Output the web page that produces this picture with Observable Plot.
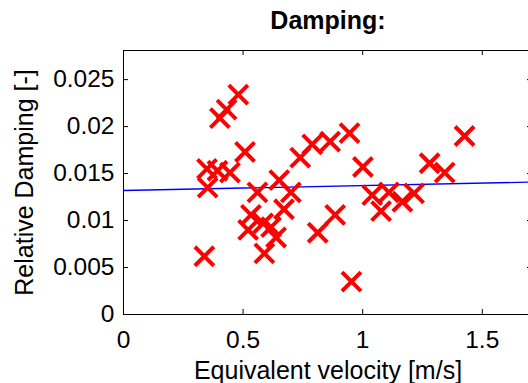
<!DOCTYPE html>
<html><head><meta charset="utf-8">
<script src="https://cdn.jsdelivr.net/npm/d3@7"></script>
<script src="https://cdn.jsdelivr.net/npm/@observablehq/plot@0.6"></script>
<style>
html,body{margin:0;padding:0;background:#fff;overflow:hidden;width:528px;height:383px}
#chart svg{max-width:none !important}
</style></head><body><div id="chart"></div>
<script>
const velocity = [0.480, 0.431, 0.403, 0.508, 0.349, 0.393, 0.445, 0.352, 0.338, 0.560,
                  0.651, 0.700, 0.739, 0.789, 0.864, 0.945, 1.001, 1.040, 1.077, 1.110,
                  1.166, 1.215, 1.280, 1.343, 1.426, 0.885, 0.812, 0.953, 0.671, 0.533,
                  0.521, 0.584, 0.617, 0.638, 0.589];
const damping  = [0.0234, 0.0218, 0.0209, 0.0173, 0.0155, 0.0153, 0.0151, 0.0135, 0.0062, 0.0130,
                  0.0143, 0.0130, 0.0167, 0.0181, 0.0184, 0.0193, 0.0157, 0.0127, 0.0110, 0.0130,
                  0.0120, 0.0129, 0.0161, 0.0151, 0.0190, 0.0106, 0.0087, 0.0035, 0.0112, 0.0106,
                  0.0090, 0.0097, 0.0093, 0.0082, 0.0065];
const fitX = [0, 1.71];
const fitY = [0.0132, 0.0141];
const xTicks = [0, 0.5, 1, 1.5];
const xTickLabels = ["0", "0.5", "1", "1.5"];
const yTicks = [0, 0.005, 0.01, 0.015, 0.02, 0.025];
const yTickLabels = ["0", "0.005", "0.01", "0.015", "0.02", "0.025"];
const titleText = "Damping:";
const xLabel = "Equivalent velocity [m/s]";
const yLabel = "Relative Damping [-]";

const points = velocity.map((v, i) => ({v, d: damping[i]}));
const fit = fitX.map((x, i) => ({x, y: fitY[i]}));

const W = 533, H = 383, mL = 123, mR = 1, mT = 50, mB = 69;
const fh = H - mT - mB, fw = W - mL - mR, tl = 5;
const font = "'Liberation Sans', Arial, Helvetica, sans-serif";

const plot = Plot.plot({
  width: W, height: H,
  marginLeft: mL, marginRight: mR, marginTop: mT, marginBottom: mB,
  style: {fontFamily: font, background: "white", color: "#000", maxWidth: "none"},
  x: {domain: [0, 1.71], axis: null},
  y: {domain: [0, 0.0281], axis: null},
  marks: [
    Plot.line(fit, {x: "x", y: "y", stroke: "#0000ff", strokeWidth: 1.3}),
    Plot.dot(points, {x: "v", y: "d", symbol: "times", r: 8.7, stroke: "#ff0000", strokeWidth: 4}),
    Plot.frame({stroke: "#000", strokeWidth: 1}),
    Plot.tickX(xTicks, {x: d => d, insetTop: fh - tl, stroke: "#000"}),
    Plot.tickX(xTicks, {x: d => d, insetBottom: fh - tl, stroke: "#000"}),
    Plot.tickY(yTicks, {y: d => d, insetRight: fw - tl, stroke: "#000"}),
    Plot.tickY(yTicks, {y: d => d, insetLeft: fw - tl, stroke: "#000"}),
    Plot.text(xTicks, {x: d => d, frameAnchor: "bottom", lineAnchor: "bottom", dy: 33,
      text: d => xTickLabels[xTicks.indexOf(d)], fontSize: 24.5, fill: "#000"}),
    Plot.text(yTicks, {y: d => d, frameAnchor: "left", textAnchor: "end", dx: -9,
      text: d => yTickLabels[yTicks.indexOf(d)], fontSize: 24.5, fill: "#000"}),
    Plot.text([xLabel], {frameAnchor: "bottom", lineAnchor: "bottom", dy: 64, text: d => d, fontSize: 25, fill: "#000"}),
    Plot.text([yLabel], {frameAnchor: "left", textAnchor: "middle", lineAnchor: "bottom", rotate: -90, dx: -91, text: d => d, fontSize: 25, fill: "#000"}),
    Plot.text([titleText], {frameAnchor: "top", lineAnchor: "bottom", dy: -22, text: d => d, fontSize: 25, fontWeight: "bold", fill: "#000"})
  ]
});
document.getElementById("chart").append(plot);
</script></body></html>
